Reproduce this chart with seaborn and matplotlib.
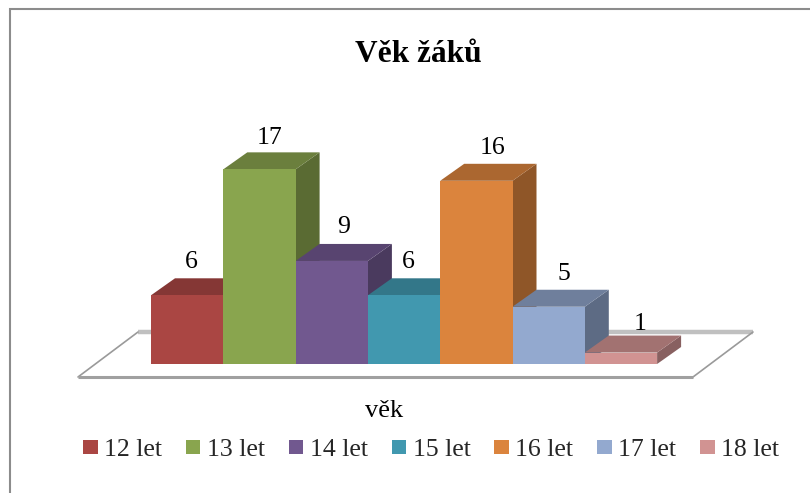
import matplotlib
matplotlib.use("Agg")
import matplotlib.pyplot as plt
from matplotlib.patches import Polygon, Rectangle
from matplotlib.lines import Line2D
import pandas as pd
import seaborn as sns

# data
categories = ["12 let", "13 let", "14 let", "15 let", "16 let", "17 let", "18 let"]
counts = [6, 17, 9, 6, 16, 5, 1]

front_colors = ["#AA4643", "#89A54E", "#71588F", "#4198AF", "#DB843D", "#93A9CF", "#D19392"]
top_colors = ["#853735", "#6B7F3D", "#584470", "#337789", "#AB6730", "#6F7F9C", "#A27271"]
side_colors = ["#723330", "#5A6B33", "#4A3A5E", "#2B6573", "#8F5628", "#5D6B84", "#886060"]

# label nudges in px, the originals don't sit at a fixed offset
label_dx = [-1, 5, 7, -1, 11, 10, 14]
label_dy = [3, 5, 3, 3, 4, 4, 8]

W, H = 810, 493
BAR_W = 72.3    # px per category
UNIT = 11.45    # px per count
LEFT = 151
BASE = 364
DX, DY = 24, 17

sns.set_theme(style="white")
plt.rcParams["font.family"] = ["Liberation Serif", "DejaVu Serif"]

fig = plt.figure(figsize=(W / 100, H / 100), dpi=100)
ax = fig.add_axes([0, 0, 1, 1])

df = pd.DataFrame({"age": categories, "count": counts})
sns.barplot(data=df, x="age", y="count", hue="age", palette=front_colors,
            width=1.0, saturation=1, legend=False, ax=ax, zorder=5, linewidth=0)

ax.set_xlim(-0.5 - LEFT / BAR_W, -0.5 + (W - LEFT) / BAR_W)
ax.set_ylim(-(H - BASE) / UNIT, BASE / UNIT)
ax.axis("off")

ddx, ddy = DX / BAR_W, DY / UNIT


def px(x, y):
    return (-0.5 + (x - LEFT) / BAR_W, (BASE - y) / UNIT)


bars = [p for p in ax.patches if isinstance(p, Rectangle)]

# outer frame, only top and left edges fall inside the image
fig.add_artist(Line2D([9.5 / W, 9.5 / W, 1], [0, 1 - 9 / H, 1 - 9 / H], transform=fig.transFigure,
                      color="#8c8c8c", linewidth=1.5, solid_joinstyle="miter"))

# floor
ax.add_patch(Polygon([px(78, 377), px(693, 377), px(753, 332), px(138, 332)], closed=True,
                     facecolor="white", edgecolor="none", zorder=1))
ax.plot(*zip(px(138, 332), px(753, 332)), color="#c0c0c0", lw=3.2, zorder=1, solid_capstyle="butt")
ax.plot(*zip(px(78, 377), px(138, 332)), color="#9a9a9a", lw=1.2, zorder=2)
ax.plot(*zip(px(693, 377), px(753, 332)), color="#9a9a9a", lw=1.2, zorder=2)
ax.plot(*zip(px(78, 377), px(693, 377)), color="#a0a0a0", lw=2.2, zorder=2, solid_capstyle="butt")

# 3d faces
for i, patch in enumerate(bars):
    x0, x1 = patch.get_x(), patch.get_x() + patch.get_width()
    top = patch.get_height()
    ax.add_patch(Polygon([(x1, 0), (x1 + ddx, ddy), (x1 + ddx, top + ddy), (x1, top)],
                         facecolor=side_colors[i], edgecolor="none", zorder=3))
    ax.add_patch(Polygon([(x0, top), (x0 + ddx, top + ddy), (x1 + ddx, top + ddy), (x1, top)],
                         facecolor=top_colors[i], edgecolor="none", zorder=3))
    ax.text(i + 0.07 + label_dx[i] / BAR_W, top + ddy + 0.75 - label_dy[i] / UNIT, str(counts[i]),
            ha="center", va="bottom", fontsize=18.5, color="black", zorder=6)

ax.text(418.5 / W, 1 - 54 / H, "Věk žáků", transform=ax.transAxes, ha="center", va="center",
        fontsize=22.6, fontweight="bold", color="black")
ax.text(384.5 / W, 1 - 411 / H, "věk", transform=ax.transAxes, ha="center", va="center",
        fontsize=19, color="black")

handles = [Rectangle((0, 0), 1, 1, facecolor=c, edgecolor="none") for c in front_colors]
fig.legend(handles, categories, loc="center", bbox_to_anchor=(431 / W, 1 - 450 / H), ncol=7,
           frameon=False, fontsize=18.5, handlelength=0.58, handleheight=0.47,
           handletextpad=0.24, columnspacing=0.93, borderpad=0)

fig.savefig("out.png", dpi=100)
